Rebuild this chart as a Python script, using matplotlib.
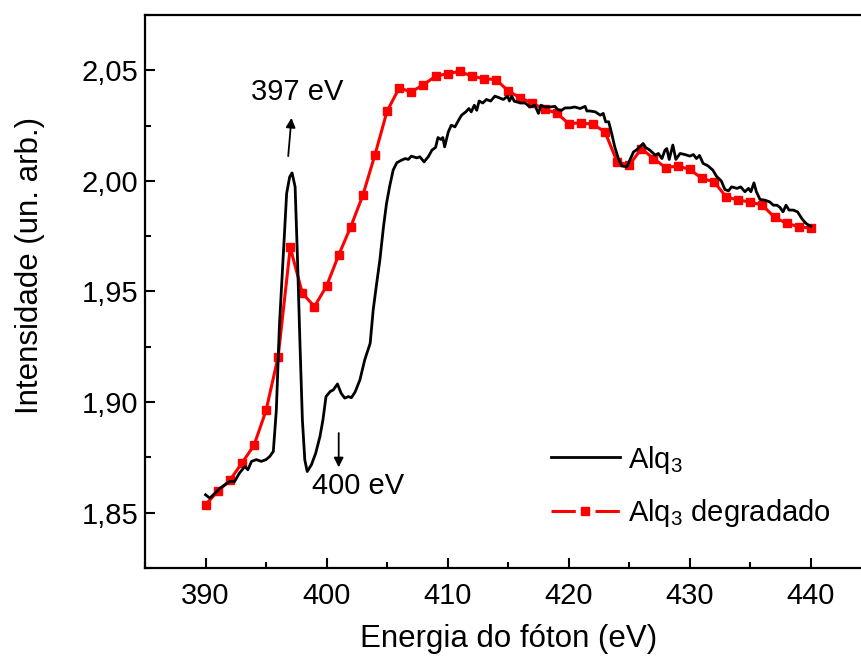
import matplotlib
matplotlib.use("Agg")
import matplotlib.pyplot as plt
from matplotlib.lines import Line2D
from matplotlib.legend_handler import HandlerTuple
from matplotlib.ticker import MultipleLocator, FuncFormatter

plt.rcParams['font.family'] = ['Liberation Sans', 'DejaVu Sans']
plt.rcParams['mathtext.default'] = 'regular'
plt.rcParams['lines.scale_dashes'] = False

# Alq3 (black) spectrum
alq3_E = [390.0, 390.35, 390.8, 391.2, 391.6, 392.0, 392.4, 392.8, 393.25, 393.5,
          393.8, 394.2, 394.6, 395.0, 395.3, 395.6, 395.85, 396.1, 396.4, 396.7,
          396.95, 397.15, 397.4, 397.6, 397.8, 398.0, 398.2, 398.4, 398.75, 399.1,
          399.45, 399.7, 399.95, 400.3, 400.55, 400.9, 401.2, 401.5, 401.8, 402.05,
          402.35, 402.75, 403.15, 403.6, 403.85, 404.1, 404.4, 404.7, 404.95, 405.2,
          405.5, 405.8, 406.2, 406.5, 406.75, 407.0, 407.45, 407.7, 408.05, 408.4,
          408.7, 409.0, 409.2, 409.45, 409.6, 409.75, 410.05, 410.3, 410.6, 410.9,
          411.15, 411.5, 411.75, 411.95, 412.2, 412.4, 412.6, 412.9, 413.2, 413.55,
          413.9, 414.25, 414.6, 414.95, 415.1, 415.3, 415.5, 415.8, 416.0, 416.4,
          416.8, 417.2, 417.5, 417.7, 418.05, 418.45, 418.85, 419.1, 419.4, 419.7,
          420.1, 420.5, 420.95, 421.35, 421.5, 421.75, 422.2, 422.6, 422.85, 423.05,
          423.3, 423.55, 423.8, 424.1, 424.4, 424.8, 425.05, 425.35, 425.65, 426.15,
          426.35, 426.7, 427.15, 427.4, 427.7, 427.95, 428.1, 428.3, 428.6, 428.85,
          429.2, 429.6, 430.0, 430.3, 430.55, 430.8, 431.1, 431.5, 431.9, 432.2,
          432.6, 432.9, 433.2, 433.45, 433.9, 434.2, 434.55, 434.85, 435.05, 435.3,
          435.5, 435.8, 436.2, 436.6, 436.9, 437.2, 437.45, 437.7, 437.95, 438.2,
          438.55, 438.9, 439.25, 439.55, 439.8, 440.0]
alq3_I = [1.8581, 1.8566, 1.8589, 1.8611, 1.8626, 1.8641, 1.8641, 1.8679, 1.8709, 1.8694,
          1.8732, 1.8740, 1.8732, 1.8740, 1.8754, 1.8777, 1.8965, 1.9341, 1.9642, 1.9943,
          2.0018, 2.0036, 1.9973, 1.9642, 1.9266, 1.8920, 1.8739, 1.8686, 1.8717, 1.8769,
          1.8844, 1.8920, 1.9025, 1.9048, 1.9055, 1.9082, 1.9040, 1.9018, 1.9025, 1.9020,
          1.9045, 1.9100, 1.9191, 1.9266, 1.9417, 1.9522, 1.9642, 1.9793, 1.9898, 1.9973,
          2.0049, 2.0082, 2.0094, 2.0101, 2.0097, 2.0112, 2.0104, 2.0109, 2.0086, 2.0109,
          2.0139, 2.0151, 2.0196, 2.0187, 2.0196, 2.0154, 2.0221, 2.0252, 2.0244, 2.0274,
          2.0297, 2.0312, 2.0327, 2.0312, 2.0342, 2.0319, 2.0361, 2.0352, 2.0368, 2.0361,
          2.0383, 2.0376, 2.0368, 2.0383, 2.0361, 2.0383, 2.0360, 2.0356, 2.0352, 2.0352,
          2.0334, 2.0342, 2.0305, 2.0342, 2.0334, 2.0334, 2.0337, 2.0322, 2.0319, 2.0330,
          2.0330, 2.0334, 2.0327, 2.0337, 2.0316, 2.0316, 2.0312, 2.0297, 2.0305, 2.0267,
          2.0267, 2.0214, 2.0154, 2.0101, 2.0067, 2.0064, 2.0094, 2.0131, 2.0142, 2.0169,
          2.0151, 2.0139, 2.0116, 2.0124, 2.0101, 2.0139, 2.0146, 2.0097, 2.0162, 2.0097,
          2.0124, 2.0119, 2.0112, 2.0119, 2.0101, 2.0115, 2.0079, 2.0068, 2.0049, 2.0021,
          2.0000, 1.9961, 1.9955, 1.9973, 1.9966, 1.9973, 1.9951, 1.9966, 1.9951, 1.9991,
          1.9951, 1.9916, 1.9913, 1.9905, 1.9890, 1.9890, 1.9880, 1.9860, 1.9890, 1.9868,
          1.9868, 1.9860, 1.9830, 1.9810, 1.9800, 1.9795]

# Alq3 degradado (red) spectrum
deg_E = list(range(390, 441))
deg_I = [1.8536, 1.8596, 1.8646, 1.8724, 1.8804, 1.8962, 1.9206, 1.9699, 1.9492, 1.9432,
         1.9525, 1.9665, 1.9793, 1.9936, 2.0119, 2.0316, 2.0420, 2.0402, 2.0435, 2.0473,
         2.0485, 2.0495, 2.0473, 2.0462, 2.0458, 2.0407, 2.0375, 2.0352, 2.0323, 2.0307,
         2.0259, 2.0262, 2.0256, 2.0221, 2.0086, 2.0071, 2.0146, 2.0101, 2.0060, 2.0067,
         2.0052, 2.0011, 1.9996, 1.9928, 1.9913, 1.9905, 1.9890, 1.9835, 1.9808, 1.9793,
         1.9786]

x_ticks = [390, 400, 410, 420, 430, 440]
y_ticks = [1.85, 1.90, 1.95, 2.00, 2.05]

fig = plt.figure(figsize=(8.62, 6.6), dpi=100)
ax = fig.add_axes([0.1682, 0.1394, 0.8427, 0.8379])

ax.plot(alq3_E, alq3_I, color='black', lw=2.0, zorder=3)
ax.plot(deg_E, deg_I, color='#ff0000', lw=2.2, marker='s', ms=5.5, zorder=2)

ax.set_xlim(385, 445)
ax.set_ylim(1.825, 2.075)
ax.set_xticks(x_ticks)
ax.set_yticks(y_ticks)
ax.xaxis.set_minor_locator(MultipleLocator(5))
ax.yaxis.set_minor_locator(MultipleLocator(0.025))
ax.yaxis.set_major_formatter(FuncFormatter(lambda v, p: f"{v:.2f}".replace('.', ',')))
ax.tick_params(which='both', direction='in', top=False, right=False, width=1.5,
               labelsize=21)
ax.tick_params(axis='x', pad=10)
ax.tick_params(axis='y', pad=5)
ax.tick_params(which='major', length=7)
ax.tick_params(which='minor', length=4)
for s in ax.spines.values():
    s.set_linewidth(1.6)

ax.set_xlabel('Energia do fóton (eV)', fontsize=22.5, labelpad=10)
ax.set_ylabel('Intensidade (un. arb.)', fontsize=22.5)
ax.yaxis.set_label_coords(-0.138, 0.548)

# annotations
ax.annotate('', xy=(397.1, 2.0285), xytext=(396.83, 2.0112),
            arrowprops=dict(arrowstyle='-|>', color='black', lw=1.3,
                            mutation_scale=14, shrinkA=0, shrinkB=0))
ax.text(397.55, 2.0401, '397 eV', fontsize=21, ha='center', va='center')
ax.annotate('', xy=(401.0, 1.8705), xytext=(401.0, 1.886),
            arrowprops=dict(arrowstyle='-|>', color='black', lw=1.3,
                            mutation_scale=14, shrinkA=0, shrinkB=0))
ax.text(402.6, 1.8622, '400 eV', fontsize=21, ha='center', va='center')

# legend
h1 = Line2D([], [], color='black', lw=2.0)
h2a = Line2D([], [], color='#ff0000', lw=2.2, linestyle=(0, (17.5, 14.2, 17.5, 60)))
h2b = Line2D([], [], color='#ff0000', marker='s', ms=5.5, linestyle='none')
leg = ax.legend([h1, (h2a, h2b)], ['Alq$_3$', 'Alq$_3$ degradado'],
                handler_map={tuple: HandlerTuple(ndivide=1, pad=0)},
                loc='upper left', bbox_to_anchor=(0.543, 0.246), frameon=False,
                fontsize=21, handlelength=2.35, handletextpad=0.3,
                labelspacing=0.75, borderaxespad=0)

fig.savefig('out.png', dpi=100)
